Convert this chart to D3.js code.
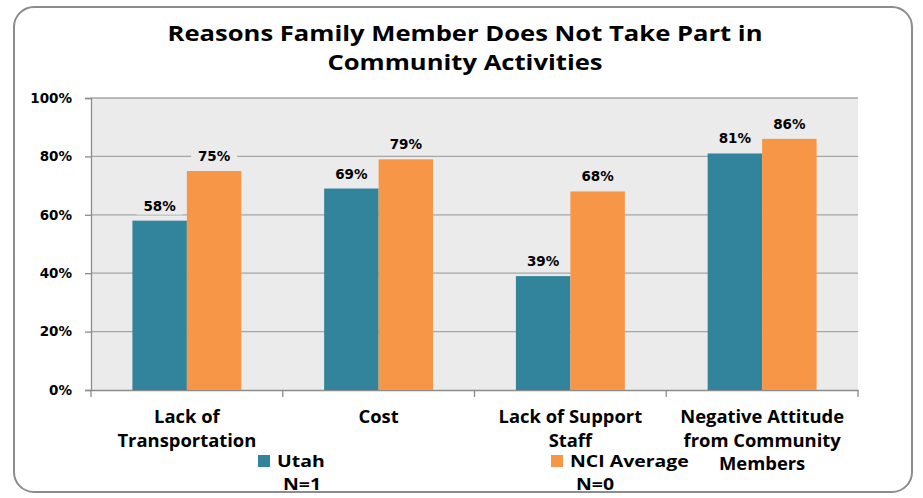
<!DOCTYPE html>
<html>
<head>
<meta charset="utf-8">
<script src="https://cdn.jsdelivr.net/npm/d3@7"></script>
<style>
  body { margin: 0; background: #fff; }
  svg { display: block; }
</style>
</head>
<body>
<script>
// chart values
const categories = [
  ["Lack of", "Transportation"],
  ["Cost"],
  ["Lack of Support", "Staff"],
  ["Negative Attitude", "from Community", "Members"]
];
const seriesNames = ["Utah", "NCI Average"];
const seriesN = ["N=1", "N=0"];
const utah = [58, 69, 39, 81];
const nciAverage = [75, 79, 68, 86];
const yTicks = [0, 20, 40, 60, 80, 100];
const titleLines = ["Reasons Family Member Does Not Take Part in", "Community Activities"];

const colors = ["#31849b", "#f79646"];
const W = 923, H = 498;
const margin = { top: 98, right: 65, bottom: 108, left: 91 };
const width = W - margin.left - margin.right;
const height = H - margin.top - margin.bottom;
const sans = "'Open Sans', Lato, sans-serif";
const verd = "'DejaVu Sans', Verdana, sans-serif";

const svg = d3.select("body").append("svg")
    .attr("width", W)
    .attr("height", H);

// outer frame
svg.append("rect")
    .attr("x", 14).attr("y", 7)
    .attr("width", 898).attr("height", 485)
    .attr("rx", 20).attr("ry", 20)
    .attr("fill", "#fff")
    .attr("stroke", "#8c8c8c")
    .attr("stroke-width", 2);

// title, a bit stretched sideways like the original
svg.selectAll(".title")
    .data(titleLines)
    .enter().append("text")
    .attr("transform", (d, i) => `translate(465, ${41 + i * 29}) scale(1.22, 1)`)
    .attr("text-anchor", "middle")
    .style("font-family", sans)
    .style("font-weight", "bold")
    .style("font-size", "21px")
    .text(d => d);

const g = svg.append("g")
    .attr("transform", `translate(${margin.left}, ${margin.top})`);

const idx = categories.map((d, i) => i);
const x0 = d3.scaleBand()
    .domain(idx)
    .range([0, width])
    .paddingInner(0)
    .paddingOuter(0);
const x1 = d3.scaleBand()
    .domain([0, 1])
    .range([0, x0.bandwidth()])
    .paddingOuter(0.76)
    .paddingInner(0);
const y = d3.scaleLinear()
    .domain([0, 100])
    .range([height, 0]);

// plot background
g.append("rect")
    .attr("width", width)
    .attr("height", height)
    .attr("fill", "#ebebeb");

// gridlines
g.selectAll(".grid")
    .data(yTicks.filter(d => d > 0))
    .enter().append("line")
    .attr("x1", 0).attr("x2", width)
    .attr("y1", d => y(d)).attr("y2", d => y(d))
    .attr("stroke", "#a6a6a6")
    .attr("stroke-width", 1.3);

// y axis
const yAxis = g.append("g")
    .call(d3.axisLeft(y).tickValues(yTicks).tickSize(6).tickPadding(13).tickFormat(d => d + "%"));
yAxis.select(".domain").attr("stroke", "#8c8c8c").attr("stroke-width", 1.3);
yAxis.selectAll(".tick line").attr("stroke", "#8c8c8c").attr("stroke-width", 1.3);
yAxis.selectAll("text")
    .style("font-family", verd)
    .style("font-weight", "bold")
    .style("font-size", "13.5px")
    .attr("fill", "#000");

// x axis
const xAxis = g.append("g")
    .attr("transform", `translate(0, ${height})`)
    .call(d3.axisBottom(x0).tickSize(0).tickFormat(""));
xAxis.select(".domain").attr("stroke", "#8c8c8c").attr("stroke-width", 1.3);
g.selectAll(".xtick")
    .data(d3.range(categories.length + 1))
    .enter().append("line")
    .attr("x1", d => d * x0.step()).attr("x2", d => d * x0.step())
    .attr("y1", height).attr("y2", height + 7)
    .attr("stroke", "#8c8c8c")
    .attr("stroke-width", 1.3);

// category labels
const catLab = g.selectAll(".cat")
    .data(categories)
    .enter().append("text")
    .attr("text-anchor", "middle")
    .attr("transform", (d, i) => `translate(${x0(i) + x0.bandwidth() / 2}, ${height + 33})`)
    .style("font-family", sans)
    .style("font-weight", "bold")
    .style("font-size", "18.4px");
catLab.selectAll("tspan")
    .data(d => d)
    .enter().append("tspan")
    .attr("x", 0)
    .attr("y", (d, i) => i * 23.5)
    .text(d => d);

// bars
const rows = idx.map(i => [utah[i], nciAverage[i]]);
const groups = g.selectAll(".grp")
    .data(rows)
    .enter().append("g")
    .attr("transform", (d, i) => `translate(${x0(i)}, 0)`);

groups.selectAll("rect")
    .data(d => d)
    .enter().append("rect")
    .attr("x", (d, j) => x1(j))
    .attr("y", d => y(d))
    .attr("width", x1.bandwidth())
    .attr("height", d => height - y(d))
    .attr("fill", (d, j) => colors[j]);

// value labels with background
groups.selectAll(".lab")
    .data(d => d)
    .enter().append("g")
    .attr("transform", (d, j) => `translate(${x1(j) + x1.bandwidth() / 2}, ${y(d) - 10})`)
    .each(function (d) {
        const t = d3.select(this);
        t.append("rect")
            .attr("x", -23).attr("y", -14)
            .attr("width", 46).attr("height", 18)
            .attr("fill", "#ebebeb");
        t.append("text")
            .attr("text-anchor", "middle")
            .style("font-family", verd)
            .style("font-weight", "bold")
            .style("font-size", "13.5px")
            .text(d + "%");
    });

// legend
const legendX = [258, 551];
seriesNames.forEach((name, j) => {
    svg.append("rect")
        .attr("x", legendX[j]).attr("y", 455)
        .attr("width", 12).attr("height", 12)
        .attr("fill", colors[j]);
    svg.append("text")
        .attr("transform", `translate(${legendX[j] + 19}, 467) scale(1.18, 1)`)
        .style("font-family", sans)
        .style("font-weight", "bold")
        .style("font-size", "16.5px")
        .text(name);
    svg.append("text")
        .attr("transform", `translate(${legendX[j] + 25}, 490) scale(1.18, 1)`)
        .style("font-family", sans)
        .style("font-weight", "bold")
        .style("font-size", "16.5px")
        .text(seriesN[j]);
});
</script>
</body>
</html>
